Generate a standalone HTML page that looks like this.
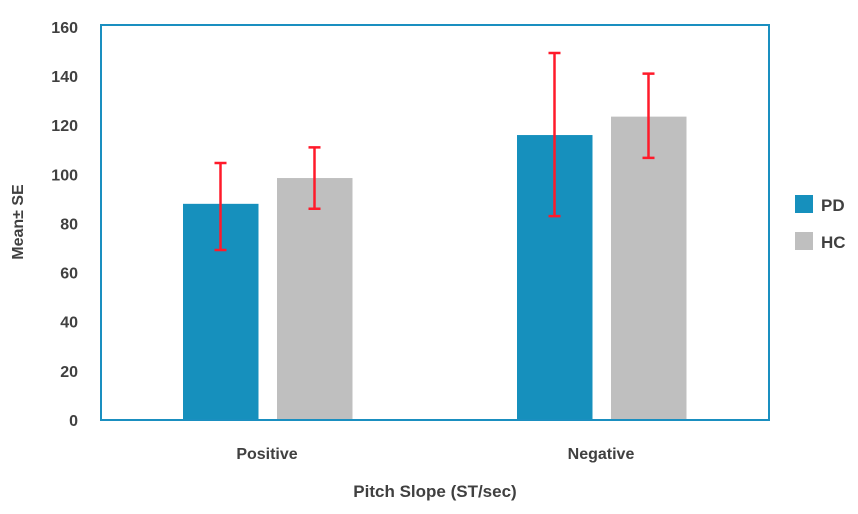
<!DOCTYPE html>
<html><head><meta charset="utf-8"><style>
body{margin:0;background:#fff;width:858px;height:509px;overflow:hidden;font-family:"Liberation Sans",sans-serif}
svg text{font-family:"Liberation Sans",sans-serif;font-weight:bold;fill:#404040}
</style></head><body>
<svg width="858" height="509">
<g id="g"></g>
</svg>
<script>
const categories=["Positive","Negative"];
const pdValues=[88,116];
const hcValues=[98.5,123.5];
const pdLow=[69.2,83];
const pdHigh=[104.6,149.4];
const hcLow=[86,106.7];
const hcHigh=[111,141];
const yTicks=[0,20,40,60,80,100,120,140,160];
const L=101,R=769,T=25,B=420,yMax=160.8;
const ns="http://www.w3.org/2000/svg";
const g=document.getElementById('g');
function y(v){return B-v*(B-T)/yMax;}
function mk(t,a,txt){const e=document.createElementNS(ns,t);for(const k in a)e.setAttribute(k,a[k]);if(txt!==undefined)e.textContent=txt;g.appendChild(e);return e;}
yTicks.forEach(v=>{const e=mk('text',{x:78,y:y(v)+6,'text-anchor':'end','font-size':16},v);

});
const groupW=(R-L)/categories.length;
categories.forEach((c,i)=>{
 const cx=L+groupW*(i+0.5);
 const bars=[[pdValues[i],'#1690bd',cx-85,pdLow[i],pdHigh[i],'bar-pd-'],[hcValues[i],'#bfbfbf',cx+9,hcLow[i],hcHigh[i],'bar-hc-']];
 bars.forEach(b=>{
  const r=mk('rect',{x:b[2],y:y(b[0]),width:75.5,height:B-y(b[0]),fill:b[1]});
  
  
  const ex=b[2]+37.5;
  const eb=mk('path',{d:`M${ex},${y(b[3])}V${y(b[4])}M${ex-6},${y(b[3])}H${ex+6}M${ex-6},${y(b[4])}H${ex+6}`,stroke:'#ff1a2a','stroke-width':2.5,fill:'none'});
  
  
 });
 const t=mk('text',{x:cx-1,y:459,'text-anchor':'middle','font-size':16},c);
 
 
});
const f=mk('rect',{x:L,y:T,width:R-L,height:B-T,fill:'none',stroke:'#1a8fc0','stroke-width':2});


const xt=mk('text',{x:435,y:497,'text-anchor':'middle','font-size':17},'Pitch Slope (ST/sec)');


const yt=mk('text',{x:0,y:0,transform:'translate(23,222) rotate(-90)','text-anchor':'middle','font-size':16},'Mean± SE');


[['PD','#1690bd',195],['HC','#bfbfbf',232]].forEach(l=>{
 const r=mk('rect',{x:795,y:l[2],width:18,height:18,fill:l[1]});
 
 
 const t=mk('text',{x:821,y:l[2]+16,'font-size':17},l[0]);
 
 
});
</script>
</body></html>
